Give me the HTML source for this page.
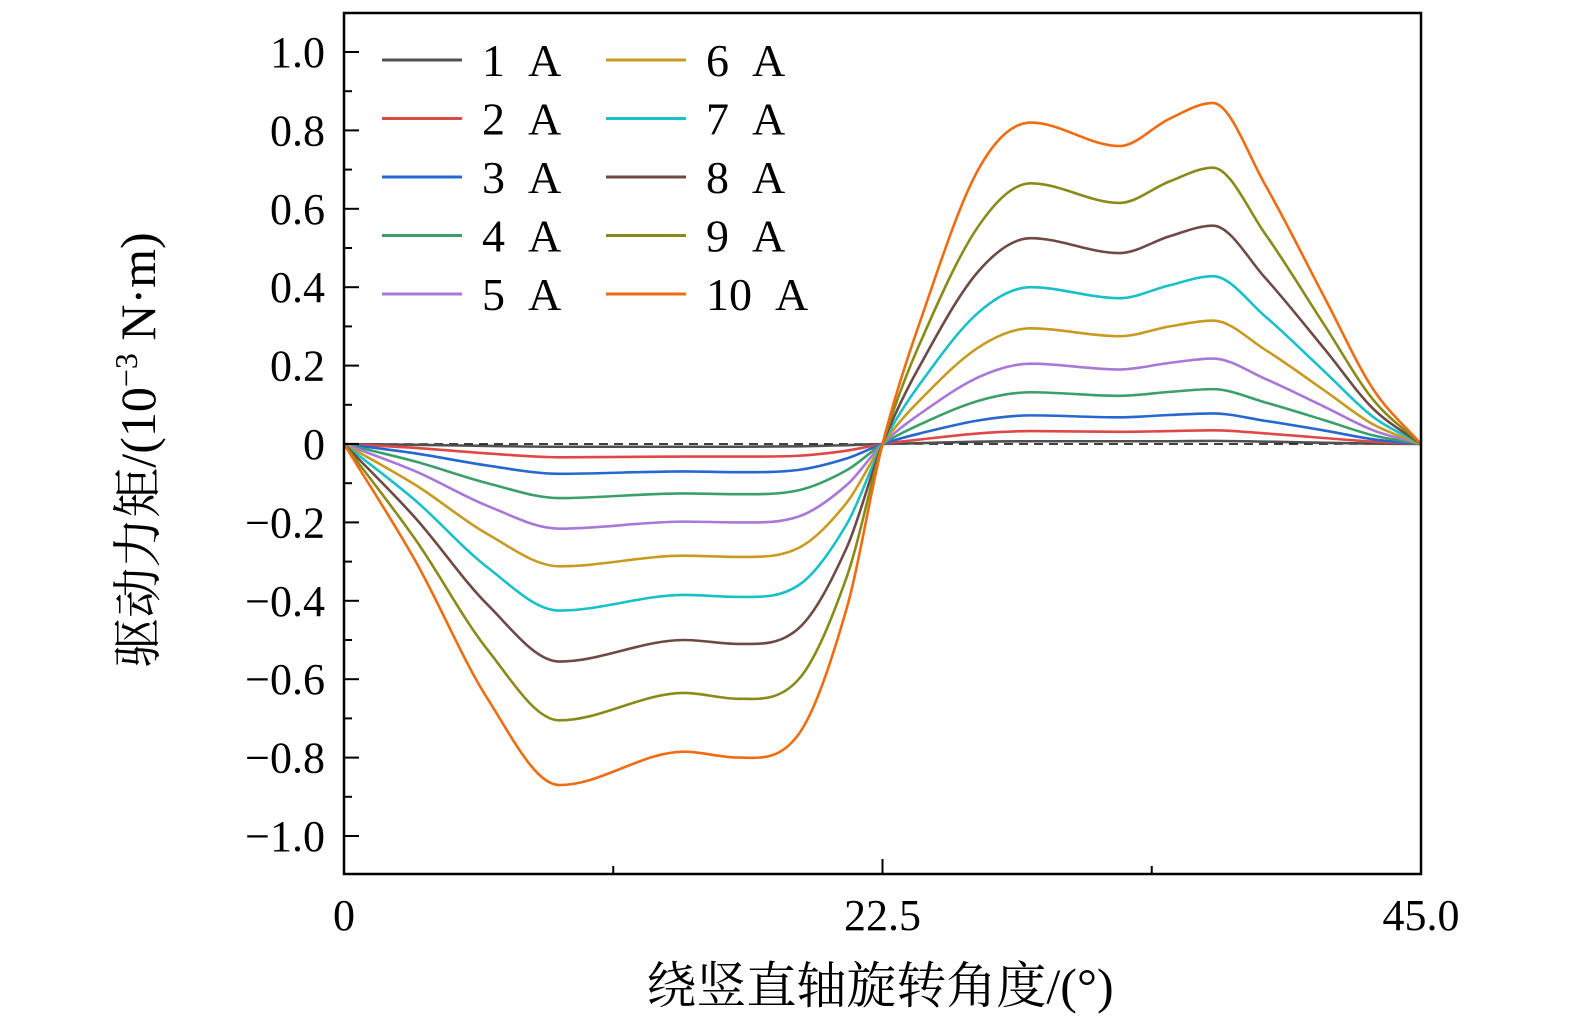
<!DOCTYPE html>
<html><head><meta charset="utf-8"><style>
html,body{margin:0;padding:0;background:#fff;overflow:hidden;width:1575px;height:1033px;}
svg{display:block;position:absolute;left:0;top:0;}
text{font-family:"Liberation Serif","Noto Serif CJK SC",serif;fill:#000;}
</style></head><body>
<svg id="chart" width="1575" height="1033" viewBox="0 0 1575 1033" xmlns="http://www.w3.org/2000/svg"></svg>
<script>
const angles = [0,3,6,9,14.2,16.5,19,21,22.5,24,26.5,28.7,32.4,34.5,36.3,38.5,41,43,45];
const seriesNames = ["1 A","2 A","3 A","4 A","5 A","6 A","7 A","8 A","9 A","10 A"];
const colors = ["#505050","#e04848","#2468d0","#3aa06a","#a878d8","#c89a20","#18c0c8","#6e4a44","#8a8a18","#f06c10"];
const s1 = [0,-0.002,-0.005,-0.007,-0.007,-0.007,-0.006,-0.003,0,0.002,0.006,0.007,0.007,0.007,0.008,0.006,0.003,0.001,0];
const s2 = [0,-0.01,-0.024,-0.034,-0.032,-0.032,-0.03,-0.017,0,0.011,0.027,0.033,0.031,0.033,0.035,0.027,0.015,0.006,0];
const s3 = [0,-0.024,-0.055,-0.076,-0.07,-0.072,-0.066,-0.037,0,0.026,0.06,0.073,0.068,0.074,0.078,0.059,0.034,0.012,0];
const s4 = [0,-0.045,-0.1,-0.138,-0.126,-0.128,-0.118,-0.067,0,0.048,0.11,0.132,0.123,0.133,0.14,0.106,0.06,0.022,0];
const s5 = [0,-0.07,-0.158,-0.216,-0.198,-0.2,-0.185,-0.105,0,0.074,0.17,0.205,0.19,0.207,0.218,0.166,0.094,0.035,0];
const s6 = [0,-0.105,-0.23,-0.312,-0.285,-0.288,-0.265,-0.15,0,0.108,0.246,0.295,0.275,0.3,0.315,0.24,0.135,0.05,0];
const s7 = [0,-0.145,-0.315,-0.425,-0.385,-0.39,-0.36,-0.205,0,0.148,0.335,0.4,0.372,0.405,0.428,0.325,0.183,0.069,0];
const s8 = [0,-0.19,-0.41,-0.555,-0.5,-0.51,-0.47,-0.265,0,0.193,0.44,0.525,0.487,0.53,0.557,0.423,0.24,0.09,0];
const s9 = [0,-0.245,-0.525,-0.705,-0.635,-0.65,-0.6,-0.34,0,0.248,0.555,0.665,0.615,0.67,0.705,0.535,0.3,0.113,0];
const s10 = [0,-0.3,-0.65,-0.87,-0.785,-0.8,-0.74,-0.42,0,0.3,0.7,0.82,0.76,0.83,0.87,0.66,0.37,0.14,0];
const allSeries = [s1,s2,s3,s4,s5,s6,s7,s8,s9,s10];
const yTicks = [-1.0,-0.8,-0.6,-0.4,-0.2,0,0.2,0.4,0.6,0.8,1.0];
const yTickLabels = ["\u22121.0","\u22120.8","\u22120.6","\u22120.4","\u22120.2","0","0.2","0.4","0.6","0.8","1.0"];
const xTicks = [0,22.5,45];
const xTickLabels = ["0","22.5","45.0"];
const xMinor = [11.25,33.75];

const NS="http://www.w3.org/2000/svg";
const svg=document.getElementById('chart');
const L=344,R=1421,T=13,B=874;
const xs=v=>L+(v-0)/(45-0)*(R-L);
const ys=v=>444-v*(444-52);
function mk(tag,attrs,parent){const e=document.createElementNS(NS,tag);for(const k in attrs)e.setAttribute(k,attrs[k]);(parent||svg).appendChild(e);return e;}

let z=mk('line',{x1:L,x2:R,y1:ys(0),y2:ys(0),stroke:'#000','stroke-width':1.5,'stroke-dasharray':'9,6'});



const g=mk('g',{});


allSeries.forEach((s,i)=>{
  const px=angles.map(a=>xs(a)), py=s.map(v=>ys(v));
  const n=px.length, m=[];
  for(let j=0;j<n;j++){
    const a=Math.max(0,j-1), b=Math.min(n-1,j+1);
    let sl=(py[b]-py[a])/(px[b]-px[a]);
    if(j>0&&j<n-1&&(py[j]-py[j-1])*(py[j+1]-py[j])<=0) sl=0;
    m.push(sl);
  }
  let d='M'+px[0]+','+py[0];
  for(let j=0;j<n-1;j++){
    const dx=(px[j+1]-px[j])/3;
    d+=' C'+(px[j]+dx)+','+(py[j]+m[j]*dx)+' '+(px[j+1]-dx)+','+(py[j+1]-m[j+1]*dx)+' '+px[j+1]+','+py[j+1];
  }
  const p=mk('path',{d:d,fill:'none',stroke:colors[i],'stroke-width':2.6},g);
  
  
});

const f=mk('rect',{x:L,y:T,width:R-L,height:B-T,fill:'none',stroke:'#000','stroke-width':2.5});



yTicks.forEach((v,i)=>{
  const y=ys(v);
  const t=mk('line',{x1:L,x2:L+15,y1:y,y2:y,stroke:'#000','stroke-width':2});
  
  
  if(i<yTicks.length-1){const ym=ys(v+0.1);
    const mm=mk('line',{x1:L,x2:L+8,y1:ym,y2:ym,stroke:'#000','stroke-width':2});
    
    }
  const lb=mk('text',{x:325,y:y+15,'text-anchor':'end','font-size':44});
  lb.textContent=yTickLabels[i];
  
  
});
xTicks.forEach((v,i)=>{
  const x=xs(v);
  const t=mk('line',{x1:x,x2:x,y1:B,y2:B-15,stroke:'#000','stroke-width':2});
  
  
  const lb=mk('text',{x:x,y:930,'text-anchor':'middle','font-size':44});
  lb.textContent=xTickLabels[i];
  
  
});
xMinor.forEach(v=>{
  const x=xs(v);
  const t=mk('line',{x1:x,x2:x,y1:B,y2:B-8,stroke:'#000','stroke-width':2});
  
  
});

const lg=mk('g',{});


seriesNames.forEach((n,i)=>{
  const col=Math.floor(i/5),row=i%5;
  const lx=col?606:382, y=60+row*58.5;
  const ln=mk('line',{x1:lx,x2:lx+80,y1:y,y2:y,stroke:colors[i],'stroke-width':3},lg);
  
  
  const tx=mk('text',{x:lx+100,y:y+16,'font-size':46,'xml:space':'preserve'},lg);
  tx.textContent=n.replace(' ','\u00a0\u00a0');
  
  
});

const xt=mk('text',{x:880,y:1003,'text-anchor':'middle','font-size':50});
xt.textContent='绕竖直轴旋转角度/(°)';


const yt=mk('text',{x:0,y:0,'text-anchor':'middle','font-size':50,transform:'translate(155,450) rotate(-90)'});
yt.innerHTML='驱动力矩/(10<tspan dy="-18" font-size="32">\u22123</tspan><tspan dy="18"> N·m)</tspan>';


</script>
</body></html>
